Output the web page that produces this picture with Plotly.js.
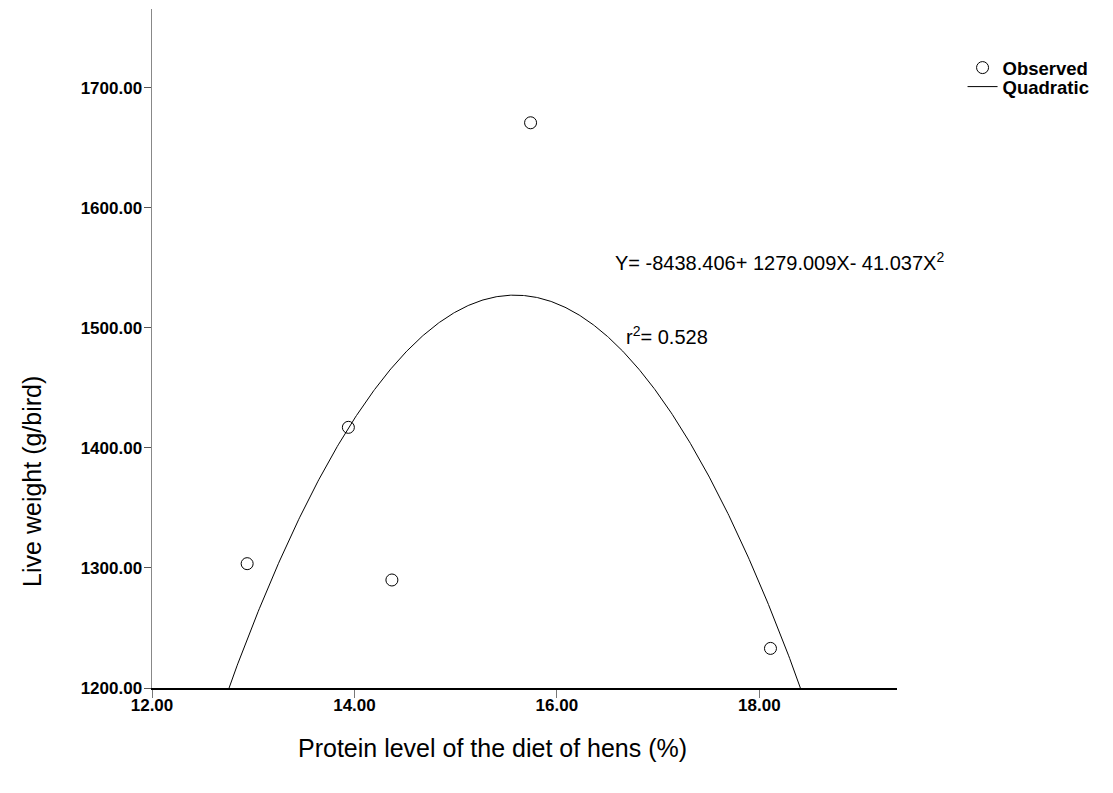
<!DOCTYPE html>
<html>
<head>
<meta charset="utf-8">
<script src="https://cdn.plot.ly/plotly-3.0.1.min.js"></script>
<style>
  html, body { margin: 0; padding: 0; background: #fff; }
  #chart { width: 1113px; height: 793px; }
</style>
</head>
<body>
<div id="chart"></div>
<script>
// Observed live weight by dietary protein level
const proteinLevel = [12.94, 13.94, 14.37, 15.74, 18.11];
const liveWeight = [1303.6, 1417.2, 1290.0, 1671.0, 1233.0];

// Quadratic fit coefficients: Y = b0 + b1*X + b2*X^2
const b0 = -8438.406;
const b1 = 1279.009;
const b2 = -41.037;
const rSquared = 0.528;

const xTicks = [12, 14, 16, 18];
const yTicks = [1200, 1300, 1400, 1500, 1600, 1700];

// Sample the fitted curve across the plotted x span (clipped at the axes)
const fitX = [];
const fitY = [];
for (let i = 0; i <= 600; i++) {
  const x = 12.6 + i * 0.01;
  fitX.push(x);
  fitY.push(b0 + b1 * x + b2 * x * x);
}

const family = 'Liberation Sans, Arial, sans-serif';
const tickFont = { family: family, size: 17, color: '#000', weight: 'bold' };
const legendFont = { family: family, size: 18.5, color: '#000', weight: 'bold' };
const titleFont = { family: family, size: 25, color: '#000' };
const noteFont = { family: family, size: 20, color: '#000' };

const traces = [
  {
    x: proteinLevel, y: liveWeight,
    type: 'scatter', mode: 'markers', name: 'Observed', legend: 'legend',
    marker: { symbol: 'circle-open', size: 12, color: '#000', line: { width: 1, color: '#000' } },
    cliponaxis: false
  },
  {
    x: fitX, y: fitY,
    type: 'scatter', mode: 'lines', name: 'Quadratic', legend: 'legend2',
    line: { color: '#000', width: 1 }
  }
];

const legendBase = {
  xanchor: 'left', yanchor: 'top', font: legendFont,
  bgcolor: 'rgba(0,0,0,0)', borderwidth: 0, itemwidth: 30
};

const layout = {
  width: 1113, height: 793,
  margin: { l: 152, r: 216, t: 9, b: 105 },
  paper_bgcolor: '#fff', plot_bgcolor: '#fff',
  showlegend: true,
  legend: Object.assign({ x: 1.088, y: 0.941 }, legendBase),
  legend2: Object.assign({ x: 1.088, y: 0.913 }, legendBase),
  xaxis: {
    range: [12, 19.36], tickvals: xTicks, ticktext: xTicks.map(v => v.toFixed(2)),
    showgrid: false, zeroline: false, showline: true, linecolor: '#000', linewidth: 1.5,
    ticks: 'outside', ticklen: 8, tickcolor: '#777', tickwidth: 1,
    ticklabelstandoff: -7,
    tickfont: tickFont, automargin: false
  },
  yaxis: {
    range: [1200, 1765.8], tickvals: yTicks, ticktext: yTicks.map(v => v.toFixed(2)),
    showgrid: false, zeroline: false, showline: true, linecolor: '#888', linewidth: 1.5,
    ticks: 'outside', ticklen: 7, tickcolor: '#555', tickwidth: 1,
    ticklabelstandoff: -2,
    tickfont: tickFont, automargin: false
  },
  annotations: [
    {
      // x-axis title
      x: 0.4577, y: -0.0884, xref: 'paper', yref: 'paper', xanchor: 'center', yanchor: 'middle',
      text: 'Protein level of the diet of hens (%)', showarrow: false, font: titleFont
    },
    {
      // y-axis title
      x: -0.1611, y: 0.305, xref: 'paper', yref: 'paper', xanchor: 'center', yanchor: 'middle',
      text: 'Live weight (g/bird)', textangle: -90, showarrow: false, font: titleFont
    },
    {
      x: 16.55, y: 1555, xref: 'x', yref: 'y', xanchor: 'left', yanchor: 'middle',
      text: 'Y= ' + b0.toFixed(3) + '+ ' + b1.toFixed(3) + 'X- ' + Math.abs(b2).toFixed(3) + 'X<sup>2</sup>',
      showarrow: false, font: noteFont
    },
    {
      x: 16.66, y: 1494, xref: 'x', yref: 'y', xanchor: 'left', yanchor: 'middle',
      text: 'r<sup>2</sup>= ' + rSquared.toFixed(3),
      showarrow: false, font: noteFont
    }
  ]
};

Plotly.newPlot('chart', traces, layout, { displayModeBar: false, staticPlot: true });
</script>
</body>
</html>
